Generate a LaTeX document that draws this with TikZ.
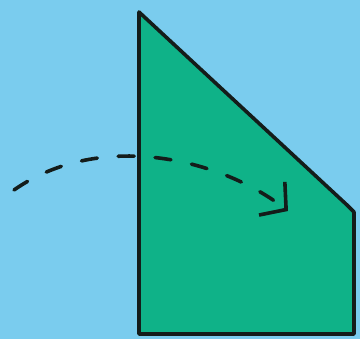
\documentclass[tikz,border=0pt]{standalone}
\usetikzlibrary{arrows.meta}
\definecolor{skyblue}{RGB}{122,204,238}
\definecolor{leafgreen}{RGB}{15,178,136}
\definecolor{inkline}{RGB}{20,28,26}
\tikzset{
  shapeline/.style={draw=inkline, line width=3.6pt, fill=leafgreen, line join=round},
  turnarrow/.style={draw=inkline, line width=3.6pt, line cap=round, dash pattern=on 16pt off 21pt,
    -{Straight Barb[length=18pt,width=42pt,line width=3.6pt]}}
}
\begin{document}
\begin{tikzpicture}[x=1pt,y=-1pt]
\fill[skyblue] (0,0) rectangle (360,339);
\useasboundingbox (0,0) rectangle (360,339);
\coordinate (tl) at (139,12);
\coordinate (bl) at (139,334);
\coordinate (br) at (354,334);
\coordinate (rt) at (354,212);
\coordinate (rc) at (347,205);
\draw[shapeline] (tl) -- (bl) -- (br) -- (rt) -- (rc) -- cycle;
\coordinate (arcstart) at (14,190);
\coordinate (arcend) at (288,211);
\draw[turnarrow] (arcstart) .. controls (100,130) and (220,158) .. (arcend);
\end{tikzpicture}
\end{document}
